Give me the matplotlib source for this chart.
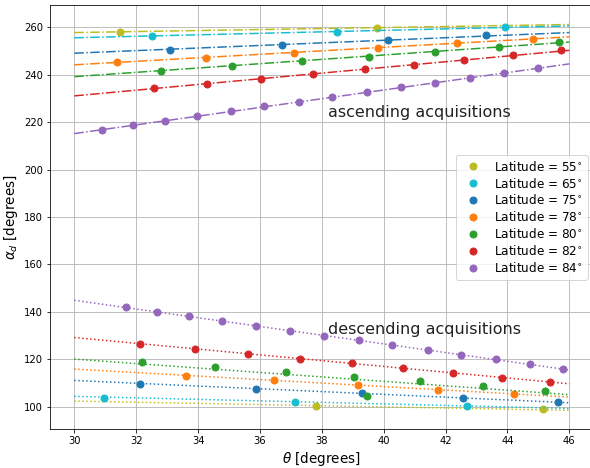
import matplotlib
matplotlib.use("Agg")
import matplotlib.pyplot as plt

latitudes = [55, 65, 75, 78, 80, 82, 84]
colors = ['#bcbd22', '#17becf', '#1f77b4', '#ff7f0e', '#2ca02c', '#d62728', '#9467bd']

# Ascending acquisitions: sample points
asc_theta = [
    [31.48, 39.78],
    [32.50, 38.50, 43.92],
    [33.09, 36.70, 40.14, 43.32],
    [31.38, 34.27, 37.09, 39.81, 42.37, 44.82],
    [32.79, 35.10, 37.37, 39.53, 41.66, 43.74, 45.67],
    [32.57, 34.30, 36.02, 37.70, 39.39, 40.99, 42.61, 44.17, 45.72],
    [30.90, 31.89, 32.93, 33.97, 35.06, 36.13, 37.25, 38.34, 39.45, 40.57, 41.67, 42.79, 43.90, 44.98],
]
asc_alpha = [
    [258.1, 259.9],
    [256.4, 258.1, 260.2],
    [250.6, 252.7, 254.6, 256.6],
    [245.4, 247.2, 249.3, 251.1, 253.2, 255.2],
    [241.8, 243.8, 245.9, 247.7, 249.8, 251.7, 253.7],
    [234.3, 236.2, 238.3, 240.3, 242.4, 244.3, 246.3, 248.2, 250.3],
    [216.6, 218.7, 220.6, 222.7, 224.7, 226.8, 228.7, 230.7, 232.6, 234.7, 236.7, 238.8, 240.7, 242.7],
]
# Ascending fitted lines: values at theta = 30 and theta = 46
fit_theta = [30, 46]
asc_fit = [
    [257.8, 261.2],
    [255.6, 260.6],
    [249.1, 257.8],
    [244.2, 256.0],
    [239.2, 253.8],
    [231.1, 250.3],
    [215.2, 244.6],
]

# Descending acquisitions: sample points
desc_theta = [
    [37.81, 45.15],
    [30.97, 37.13, 42.70],
    [32.14, 35.86, 39.30, 42.57, 45.62],
    [33.60, 36.45, 39.16, 41.77, 44.22],
    [32.19, 34.55, 36.85, 39.04, 41.18, 43.22, 45.21, 39.46],
    [32.14, 33.89, 35.61, 37.31, 38.97, 40.63, 42.24, 43.81, 45.36],
    [31.66, 32.68, 33.72, 34.78, 35.87, 36.96, 38.08, 39.19, 40.28, 41.42, 42.51, 43.63, 44.72, 45.81],
]
desc_alpha = [
    [100.4, 98.9],
    [103.9, 102.1, 100.3],
    [109.7, 107.7, 105.8, 103.8, 101.8],
    [113.1, 111.1, 109.0, 107.2, 105.2],
    [118.7, 116.8, 114.6, 112.7, 110.7, 108.6, 106.6, 104.6],
    [126.5, 124.4, 122.4, 120.3, 118.3, 116.3, 114.2, 112.3, 110.3],
    [142.1, 140.1, 138.2, 136.1, 134.1, 132.1, 130.0, 128.0, 126.1, 124.0, 122.0, 120.0, 118.0, 115.9],
]
desc_fit = [
    [102.4, 98.5],
    [104.4, 99.3],
    [111.1, 101.7],
    [115.9, 104.1],
    [120.1, 105.1],
    [129.2, 109.7],
    [144.9, 115.5],
]

xticks = [30, 32, 34, 36, 38, 40, 42, 44, 46]
yticks = [100, 120, 140, 160, 180, 200, 220, 240, 260]

fig = plt.figure(figsize=(590 / 72, 468 / 72), dpi=72)
ax = fig.add_axes([0.0847, 0.0827, 0.9214, 0.906])

for i, lat in enumerate(latitudes):
    c = colors[i]
    ax.plot(fit_theta, asc_fit[i], linestyle='-.', color=c, lw=1.5)
    ax.plot(fit_theta, desc_fit[i], linestyle=':', color=c, lw=1.5)
    ax.plot(asc_theta[i], asc_alpha[i], 'o', color=c, ms=7,
            label=r'Latitude = %d$^{\circ}$' % lat)
    ax.plot(desc_theta[i], desc_alpha[i], 'o', color=c, ms=7)

ax.text(38.2, 222.0, 'ascending acquisitions', fontsize=16, color='#222222')
ax.text(38.2, 130.6, 'descending acquisitions', fontsize=16, color='#222222')

ax.set_xlim(29.215, 46.785)
ax.set_ylim(90.5, 269.3)
ax.set_xticks(xticks)
ax.set_yticks(yticks)
ax.tick_params(labelsize=10)
ax.grid(True)
ax.set_xlabel(r'$\theta$ [degrees]', fontsize=13.5)
ax.set_ylabel(r'$\alpha_d$ [degrees]', fontsize=13.5)
ax.legend(loc='center right', fontsize=12, labelspacing=0.24)

fig.savefig('out.png', dpi=72)
